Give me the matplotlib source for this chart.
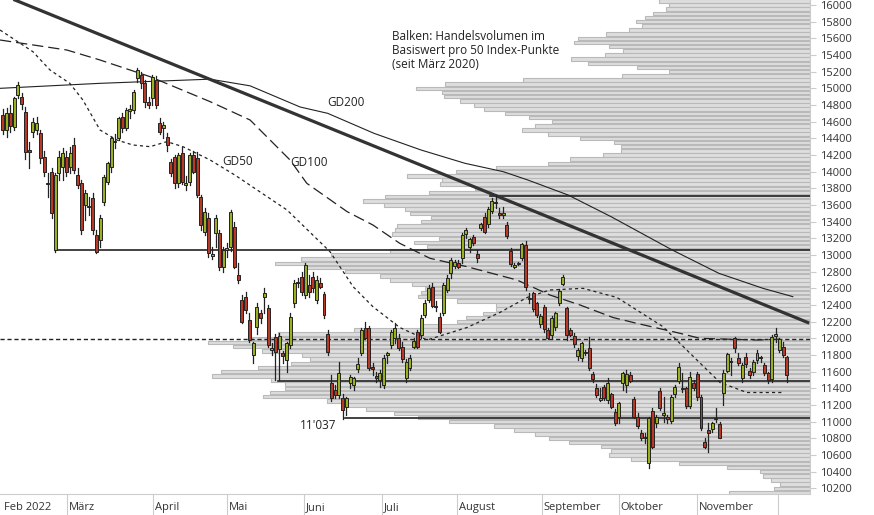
import matplotlib
matplotlib.use("Agg")
import matplotlib.pyplot as plt
import numpy as np

plt.rcParams['font.family'] = ['Open Sans', 'DejaVu Sans']

# ---------------- data ----------------
candles = [
 (14680,14750,14450,14500),(14500,14760,14420,14700),(14700,14800,14480,14550),(14540,14900,14500,14880),
 (14920,15080,14880,15040),(14900,14950,14750,14810),(14720,14780,14150,14240),(14250,14360,14050,14240),
 (14480,14650,14420,14600),(14500,14660,14450,14580),(14460,14500,14100,14160),(14180,14250,13950,14000),
 (13860,13980,13700,13860),(14000,14050,13450,13500),(13060,13980,13040,13960),(13980,14250,13900,14180),
 (14060,14280,13900,14220),(14180,14250,13950,14000),(14060,14300,13980,14220),
 (14320,14400,13980,14020),(13960,14050,13800,13840),(13860,13900,13250,13300),(13600,13780,13420,13740),
 (13580,13700,13480,13580),(13680,13750,13250,13300),(13240,13300,13030,13040),(13180,13480,13100,13440),
 (13640,13960,13600,13940),(13880,14120,13850,14100),(14060,14420,14000,14400),(14360,14450,14280,14360),
 (14400,14660,14380,14640),(14660,14700,14480,14520),(14520,14760,14500,14740),(14740,14800,14650,14740),
 (14740,14980,14700,14960),(15120,15240,15080,15220),(15160,15200,15000,15060),(15060,15100,14780,14840),
 (14840,14900,14760,14800),(14880,15160,14800,15140),(15100,15150,14760,14800),
 (14580,14650,14450,14480),(14520,14600,14400,14560),(14420,14460,14250,14320),(14120,14150,13950,13980),
 (14180,14200,13800,13860),(13860,14220,13820,14200),(14220,14300,13850,13880),(13840,13950,13780,13870),
 (13880,14220,13840,14200),(14200,14250,13980,14000),(14160,14240,13700,13720),(13700,13720,13300,13360),
 (13280,13560,13240,13520),(13440,13500,12980,13020),(13000,13100,12950,13000),(13260,13480,13100,13440),
 (13260,13300,12820,12860),(12860,13100,12800,13060),(13070,13150,12980,13070),(13100,13540,13050,13520),
 (13340,13400,12840,12860),(12760,12900,12660,12700),(12460,12520,12180,12200),(12500,12560,12300,12340),
 (12220,12300,11960,11980),(11800,11960,11700,11940),(12140,12420,12050,12380),(12300,12340,12180,12250),
 (12500,12600,12300,12540),(12360,12400,11900,11920),(11870,11950,11800,11870),(12020,12050,11500,11840),
 (11870,12060,11500,12030),(11810,11850,11700,11800),(11740,11960,11600,11940),(11920,12300,11880,12260),
 (12420,12700,12380,12660),(12680,12720,12620,12660),(12740,12800,12520,12560),(12520,12900,12480,12880),
 (12640,12760,12500,12560),
 (12740,12800,12560,12600),(12460,12750,12420,12700),(12660,12720,12600,12620),(12530,12560,12250,12280),
 (12050,12100,11800,11840),(11470,11560,11250,11290),(11380,11440,11290,11320),(11320,11720,11280,11580),
 (11290,11330,11037,11140),(11180,11300,11080,11280),(11460,11560,11400,11540),(11440,11540,11380,11520),
 (11630,11760,11600,11690),(11820,12130,11800,12100),(12130,12200,11990,12010),(12120,12150,11620,11640),
 (11660,11700,11560,11630),(11550,11600,11480,11530),(11500,11620,11420,11580),(11440,11800,11400,11760),
 (11800,11840,11700,11820),
 (11920,12100,11880,12080),(12000,12180,11950,12120),(12000,12050,11860,11880),(11900,11960,11720,11750),
 (11530,11750,11480,11720),(11650,11800,11620,11770),(11900,12000,11880,11970),(12070,12100,11880,11900),
 (12040,12280,12000,12250),(12280,12460,12260,12430),(12460,12640,12440,12610),(12610,12660,12380,12390),
 (12380,12450,12330,12380),(12250,12300,12060,12080),(12300,12660,12280,12640),(12580,12760,12560,12720),
 (12780,12960,12720,12940),(12870,12940,12840,12920),(12900,12940,12840,12860),(12970,13260,12900,13240),
 (13250,13320,13200,13300),(13100,13200,13040,13190),(13210,13240,13120,13140),(13010,13060,12920,12960),
 (13330,13390,13300,13370),(13460,13500,13260,13280),(13370,13580,13340,13550),(13530,13680,13500,13650),
 (13640,13720,13560,13620),(13500,13560,13440,13480),(13480,13580,13440,13500),(13360,13400,13200,13230),
 (13050,13080,12870,12890),(12870,12900,12840,12870),(12900,12920,12880,12900),(12970,13150,12940,13130),
 (13120,13170,12580,12620),(12480,12540,12420,12480),(12540,12560,12330,12350),(12420,12440,12260,12280),
 (12170,12290,12140,12270),(12370,12400,12080,12110),(12100,12120,11990,12010),
 (12040,12270,12000,12250),(12140,12320,12100,12300),(12430,12590,12400,12570),(12650,12760,12640,12740),
 (12360,12380,11980,12040),(12100,12120,12030,12040),(12030,12060,11900,11930),(11790,11880,11740,11860),
 (11760,11960,11730,11940),(11830,11860,11800,11830),(11880,12020,11620,11640),(11570,11600,11480,11510),
 (11400,11450,11300,11320),(11270,11400,11250,11270),(11410,11440,11260,11280),(11260,11520,11220,11470),
 (11330,11350,11160,11180),(11110,11150,10960,10980),(11060,11240,10980,11220),(11470,11600,11380,11580),
 (11440,11620,11360,11570),
 (11560,11600,11480,11490),(11270,11300,11040,11060),(11060,11100,10920,10950),(10860,10900,10780,10800),
 (10810,10860,10740,10810),(10500,11060,10440,11040),(11130,11160,10680,10700),(10980,11080,10940,11060),
 (11370,11400,11140,11160),(11090,11300,11000,11090),(11060,11080,10990,11030),(11010,11320,10990,11300),
 (11330,11440,11300,11420),(11490,11700,11460,11660),(11400,11580,11360,11400),(11400,11420,11160,11190),
 (11190,11600,11160,11540),(11460,11500,11380,11410),(11570,11600,11260,11300),(11300,11320,10900,10920),
 (10760,10800,10680,10700),
 (10900,10980,10640,10860),(10910,11000,10880,10980),(11040,11160,11000,11040),(10970,11000,10800,10810),
 (11350,11620,11200,11590),(11610,11830,11600,11810),(11720,11760,11560,11720),(12000,12020,11840,11880),
 (11760,11820,11680,11700),(11530,11700,11480,11680),(11780,11820,11660,11690),(11610,11640,11520,11560),
 (11600,11740,11560,11720),(11740,11860,11700,11830),(11770,11790,11720,11770),(11680,11700,11560,11590),
 (11580,11600,11460,11500),(11510,12040,11480,12020),(12040,12120,11960,12040),(11860,12000,11840,11990),
 (11900,11960,11780,11800),(11780,11790,11480,11560),
]

month_labels = ["Feb 2022", "März", "April", "Mai", "Juni", "Juli", "August", "September", "Oktober", "November"]
month_pos = [-0.3, 40.2, 60.0, 80.6, 101.5, 121.6, 144.4, 165.0, 185.9, 207.6]
month_pos[1] = 17.1
month_pos = [-0.3, 17.1, 40.2, 60.0, 80.6, 101.5, 121.6, 144.4, 165.0, 185.9, 207.6]
month_labels = ["Feb 2022", "März", "April", "Mai", "Juni", "Juli", "August", "September", "Oktober", "November", ""]

# volume profile (price bin, relative volume)
vol_price = list(range(16050, 10100, -50))
vol_len = [151,141,144,157,165,174,168,181,204,232,236,201,187,205,239,222,173,141,188,287,
           365,394,368,366,350,336,326,305,281,258,275,288,262,230,196,189,189,207,240,262,
           314,354,403,368,370,335,381,425,447,426,405,400,379,389,413,415,418,371,396,383,
           420,479,509,535,505,465,430,420,398,385,389,392,353,314,314,327,344,353,389,456,
           532,558,602,577,548,508,500,519,552,589,598,539,525,525,540,547,483,464,444,
           416,392,361,316,296,275,261,241,209,199,201,179,131,83,50,47,39,30,36,81]

gd200_x = [-0.8, 26, 55.5, 66.2, 79.6, 87, 99.4, 112, 123.8, 134, 140.6, 151.4, 162.9, 179.3, 191.8, 203.6, 211.6]
gd200_v = [15000, 15060, 15110, 15030, 14776, 14700, 14460, 14260, 14100, 14000, 13900, 13720, 13460, 13060, 12780, 12600, 12500]
gd100_x = [-0.8, 17.1, 26, 39.4, 55.5, 66.2, 76.9, 81.4, 92.2, 99.1, 106.3, 114.4, 124.3, 137.7, 146.5, 154.6, 163.4, 169.8, 181.4, 186.7, 202, 208.1]
gd100_v = [15580, 15460, 15340, 15140, 14840, 14620, 14140, 13860, 13520, 13360, 13140, 12960, 12860, 12700, 12520, 12400, 12250, 12180, 12060, 12000, 11980, 11990]
gd50_x = [-0.8, 8, 12.6, 17.9, 21.4, 26, 30.5, 34.8, 39.4, 43.9, 48.2, 55.5, 62.1, 76.1, 87.6, 93.8, 99.1, 106.3, 113.6, 124.3, 133.1, 140.4, 146.5, 155.4, 164.5, 176.8, 185.9, 192.1, 199.3, 208.9]
gd50_v = [15700, 15440, 15220, 15060, 14860, 14500, 14380, 14320, 14300, 14360, 14300, 14140, 13960, 13540, 13040, 12620, 12380, 12130, 11980, 12130, 12310, 12490, 12580, 12600, 12490, 12140, 11740, 11470, 11350, 11350]

trend_x = [3.2, 215.6]
trend_v = [16060, 12190]

levels = [(13055, 14), (11485, 73.7), (11040, 91.6), (13710, 130.5)]
dashed_level = 11990

# ---------------- figure ----------------
W, H = 874, 515
fig = plt.figure(figsize=(W/100, H/100), dpi=100)
rect = [0, 1 - 494/H, 810/W, 494/H]
ylim = (10132, 16060)
xlim = (-0.8, 216.2)

axv = fig.add_axes(rect)
axv.set_xlim(0, 1)
axv.set_ylim(*ylim)
axv.axis('off')
vmax = 810.0
axv.barh(vol_price, [v/vmax for v in vol_len], left=[1 - v/vmax for v in vol_len],
         height=40, color='#dedede', edgecolor='#b9b9b9', linewidth=0.8, zorder=1)

ax = fig.add_axes(rect)
ax.set_facecolor('none')
ax.set_xlim(*xlim)
ax.set_ylim(*ylim)

for sp in ['top', 'left']:
    ax.spines[sp].set_visible(False)
ax.spines['right'].set_color('#cccccc')
ax.spines['bottom'].set_color('#cccccc')

ax.yaxis.tick_right()
yt = list(range(10200, 16001, 200))
ax.set_yticks(yt)
ax.set_yticklabels([str(v) for v in yt], fontsize=8, color='#333333')
ax.tick_params(axis='y', length=4, color='#cccccc', pad=3)

ax.set_xticks(month_pos[1:])
ax.set_xticklabels([])
ax.tick_params(axis='x', length=21, color='#cccccc')
for p, lab in zip(month_pos, month_labels):
    ax.text(p + 0.5, -0.027, lab, transform=ax.get_xaxis_transform(), fontsize=8,
            color='#333333', va='center', ha='left')

# levels
ax.axhline(dashed_level, color='#222222', lw=1.0, ls=(0, (3, 2)), zorder=3)
for v, x0 in levels:
    ax.plot([x0, xlim[1]], [v, v], color='#222222', lw=1.2, zorder=3)

# moving averages and trend
ax.plot(gd200_x, gd200_v, color='#222222', lw=0.8, zorder=4)
ax.plot(gd100_x, gd100_v, color='#222222', lw=0.9, ls=(0, (9, 4)), zorder=4)
ax.plot(gd50_x, gd50_v, color='#222222', lw=0.9, ls=(0, (2.5, 2.5)), zorder=4)
ax.plot(trend_x, trend_v, color='#333333', lw=2.3, zorder=4)

# candles
green, red = '#9bb020', '#b83a26'
for i, (o, h, l, c) in enumerate(candles):
    ax.plot([i, i], [l, h], color='#222222', lw=0.9, zorder=5)
    col = green if c >= o else red
    lo, hi = min(o, c), max(o, c)
    if hi - lo < 15:
        hi += 8; lo -= 8
    ax.add_patch(plt.Rectangle((i - 0.4, lo), 0.8, hi - lo, facecolor=col,
                               edgecolor='#222222', lw=0.7, zorder=6))

# texts
ax.text(87, 14830, "GD200", fontsize=8.5, color='#222222', va='center')
ax.text(77, 14110, "GD100", fontsize=8.5, color='#222222', va='center')
ax.text(58.7, 14125, "GD50", fontsize=8.5, color='#222222', va='center')
ax.text(79.6, 10955, "11'037", fontsize=8.5, color='#222222', va='center')
ax.text(104.2, 15700, "Balken: Handelsvolumen im\nBasiswert pro 50 Index-Punkte\n(seit März 2020)",
        fontsize=8.5, color='#222222', va='top', linespacing=1.1)

fig.savefig('out.png', dpi=100)
